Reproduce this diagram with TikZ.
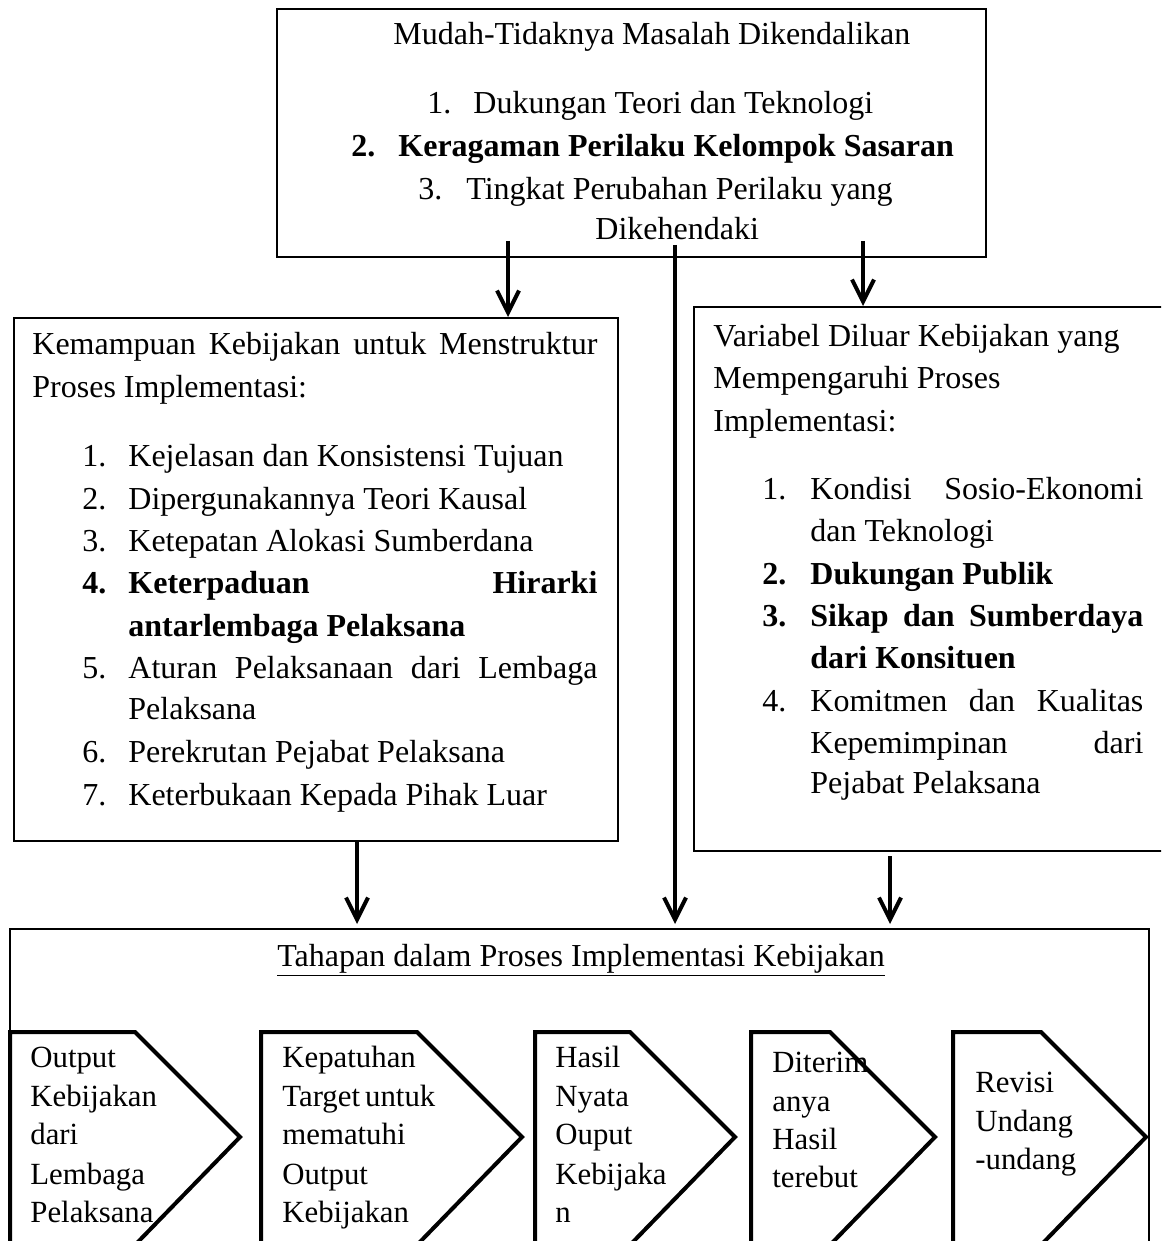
\documentclass[tikz,border=0pt]{standalone}
\usepackage{fontspec}
\setmainfont{Liberation Serif}
\usetikzlibrary{arrows.meta}
\newcommand\txtsize{\fontsize{16pt}{20pt}\selectfont}
\newcommand\chvsize{\fontsize{15.4pt}{20pt}\selectfont}
\newcommand\jus[2]{\makebox[#1][s]{#2}}
\tikzset{
  box/.style={draw, line width=0.8pt, inner sep=0pt, anchor=north west},
  ln/.style={anchor=base west, inner sep=0pt, font=\txtsize},
  cln/.style={anchor=base west, inner sep=0pt, font=\chvsize},
  chev/.style={draw, line width=2pt, line join=miter},
  arr/.style={line width=2pt, -{Straight Barb[length=11pt,width=11pt]}}
}
\begin{document}
\begin{tikzpicture}[x=0.5pt,y=-0.5pt]
\useasboundingbox (0,0) rectangle (1161,1241);
\clip (0,0) rectangle (1161,1241);
\fill[white] (0,0) rectangle (1161,1241);

% boxes
\node[box, minimum width=354.5pt, minimum height=124pt] (topbox) at (276,8) {};
\node[box, minimum width=302pt, minimum height=261.5pt] (leftbox) at (13,317) {};
\node[box, minimum width=241pt, minimum height=272pt] (rightbox) at (693,306) {};
\node[box, minimum width=569.5pt, minimum height=166pt] (botbox) at (9,928) {};

% top box text
\node[ln] (m0) at (393,45) {\jus{258.5pt}{Mudah-Tidaknya Masalah Dikendalikan}};
\node[ln] (m1n) at (427,114) {1.};
\node[ln] (m1) at (473,114) {Dukungan Teori dan Teknologi};
\node[ln] (m2n) at (351,157) {\bfseries 2.};
\node[ln] (m2) at (398,157) {\bfseries Keragaman Perilaku Kelompok Sasaran};
\node[ln] (m3n) at (418,199) {3.};
\node[ln] (m3) at (466,199) {Tingkat Perubahan Perilaku yang};
\node[ln] (m3b) at (595,240) {Dikehendaki};

% left box text
\node[ln] (l0) at (32,354) {\jus{282.5pt}{Kemampuan Kebijakan untuk Menstruktur}};
\node[ln] (l0b) at (32,397) {Proses Implementasi:};
\node[ln] (l1n) at (82,466) {1.};
\node[ln] (l1) at (128,466) {Kejelasan dan Konsistensi Tujuan};
\node[ln] (l2n) at (82,509) {2.};
\node[ln] (l2) at (128,509) {Dipergunakannya Teori Kausal};
\node[ln] (l3n) at (82,551) {3.};
\node[ln] (l3) at (128,551) {Ketepatan Alokasi Sumberdana};
\node[ln] (l4n) at (82,593) {\bfseries 4.};
\node[ln] (l4) at (128,593) {\bfseries\jus{234.5pt}{Keterpaduan Hirarki}};
\node[ln] (l4b) at (128,636) {\bfseries antarlembaga Pelaksana};
\node[ln] (l5n) at (82,678) {5.};
\node[ln] (l5) at (128,678) {\jus{234.5pt}{Aturan Pelaksanaan dari Lembaga}};
\node[ln] (l5b) at (128,719) {Pelaksana};
\node[ln] (l6n) at (82,762) {6.};
\node[ln] (l6) at (128,762) {Perekrutan Pejabat Pelaksana};
\node[ln] (l7n) at (82,805) {7.};
\node[ln] (l7) at (128,805) {Keterbukaan Kepada Pihak Luar};

% right box text
\node[ln] (r0) at (713,346) {Variabel Diluar Kebijakan yang};
\node[ln] (r0b) at (713,388) {Mempengaruhi Proses};
\node[ln] (r0c) at (713,431) {Implementasi:};
\node[ln] (r1n) at (762,499) {1.};
\node[ln] (r1) at (810,499) {\jus{166.5pt}{Kondisi Sosio-Ekonomi}};
\node[ln] (r1b) at (810,541) {dan Teknologi};
\node[ln] (r2n) at (762,584) {\bfseries 2.};
\node[ln] (r2) at (810,584) {\bfseries Dukungan Publik};
\node[ln] (r3n) at (762,626) {\bfseries 3.};
\node[ln] (r3) at (810,626) {\bfseries\jus{166.5pt}{Sikap dan Sumberdaya}};
\node[ln] (r3b) at (810,668) {\bfseries dari Konsituen};
\node[ln] (r4n) at (762,711) {4.};
\node[ln] (r4) at (810,711) {\jus{166.5pt}{Komitmen dan Kualitas}};
\node[ln] (r4b) at (810,753) {\jus{166.5pt}{Kepemimpinan dari}};
\node[ln] (r4c) at (810,793) {Pejabat Pelaksana};

% bottom box title
\node[ln] (b0) at (277,966) {\underline{Tahapan dalam Proses Implementasi Kebijakan}};

% chevrons
\draw[chev] (10,1032) -- (135,1032) -- (240,1137) -- (135,1245) -- (10,1245) -- cycle;
\draw[chev] (261,1032) -- (417,1032) -- (522,1137) -- (417,1245) -- (261,1245) -- cycle;
\draw[chev] (535,1032) -- (630,1032) -- (735,1137) -- (630,1245) -- (535,1245) -- cycle;
\draw[chev] (751,1032) -- (830,1032) -- (935,1137) -- (830,1245) -- (751,1245) -- cycle;
\draw[chev] (953,1032) -- (1041,1032) -- (1146,1137) -- (1041,1245) -- (953,1245) -- cycle;

% chevron texts
\node[cln] (c1a) at (30,1067) {Output};
\node[cln] (c1b) at (30,1106) {Kebijakan};
\node[cln] (c1c) at (30,1144) {dari};
\node[cln] (c1d) at (30,1184) {Lembaga};
\node[cln] (c1e) at (30,1222) {Pelaksana};

\node[cln] (c2a) at (282,1067) {Kepatuhan};
\node[cln] (c2b) at (282,1106) {Target\,untuk};
\node[cln] (c2c) at (282,1144) {mematuhi};
\node[cln] (c2d) at (282,1184) {Output};
\node[cln] (c2e) at (282,1222) {Kebijakan};

\node[cln] (c3a) at (555,1067) {Hasil};
\node[cln] (c3b) at (555,1106) {Nyata};
\node[cln] (c3c) at (555,1144) {Ouput};
\node[cln] (c3d) at (555,1184) {Kebijaka};
\node[cln] (c3e) at (555,1222) {n};

\node[cln] (c4a) at (772,1072) {Diterim};
\node[cln] (c4b) at (772,1111) {anya};
\node[cln] (c4c) at (772,1149) {Hasil};
\node[cln] (c4d) at (772,1187) {terebut};

\node[cln] (c5a) at (975,1092) {Revisi};
\node[cln] (c5b) at (975,1131) {Undang};
\node[cln] (c5c) at (975,1169) {-undang};

% arrows
\coordinate (a1s) at (508,241);
\coordinate (a2s) at (675,245);
\coordinate (a3s) at (863,241);
\coordinate (a4s) at (357,840);
\coordinate (a5s) at (890,856);
\coordinate (a2e) at (675,924);
\draw[arr] (a1s) -- (a1s |- leftbox.north);
\draw[arr] (a2s) -- (a2e);
\draw[arr] (a3s) -- (a3s |- rightbox.north);
\draw[arr] (a4s) -- ([yshift=2pt]a4s |- botbox.north);
\draw[arr] (a5s) -- ([yshift=2pt]a5s |- botbox.north);
\end{tikzpicture}
\end{document}
